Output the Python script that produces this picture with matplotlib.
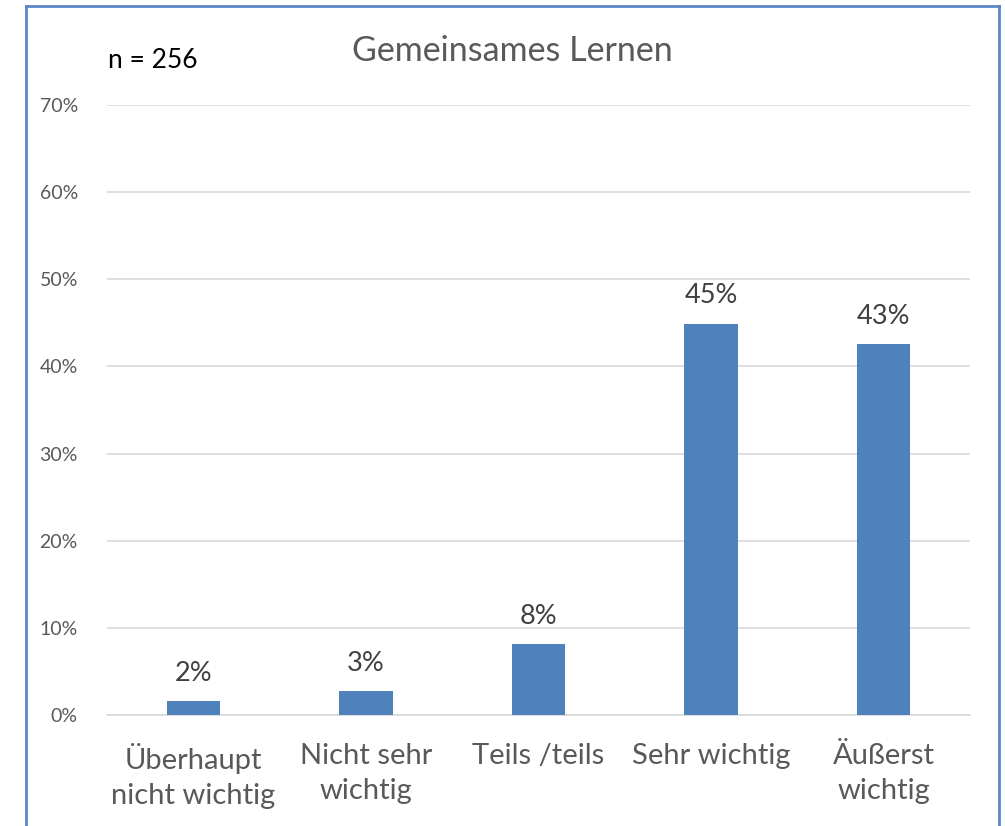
import matplotlib
matplotlib.use("Agg")
import matplotlib.pyplot as plt
from matplotlib.lines import Line2D
from matplotlib.ticker import FuncFormatter

categories = ["Überhaupt\nnicht wichtig", "Nicht sehr\nwichtig", "Teils /teils", "Sehr wichtig", "Äußerst\nwichtig"]
values = [0.016, 0.0275, 0.0815, 0.449, 0.426]
labels = ["2%", "3%", "8%", "45%", "43%"]
yticks = [0, 0.1, 0.2, 0.3, 0.4, 0.5, 0.6, 0.7]

plt.rcParams['font.family'] = ['Lato', 'DejaVu Sans']

W, H = 1005, 826
fig = plt.figure(figsize=(W / 100, H / 100), dpi=100)
ax = fig.add_axes([107 / W, 1 - 715 / H, (970 - 107) / W, (715 - 105) / H])

x = range(len(categories))
ax.bar(x, values, width=0.31, color="#4F81BD", zorder=3)
for xi, v, lab in zip(x, values, labels):
    ax.text(xi, v + 0.0175, lab, ha="center", va="bottom", fontsize=19.5, color="#404040")

ax.set_xlim(-0.5, len(categories) - 0.5)
ax.set_ylim(0, 0.7)
ax.set_yticks(yticks)
ax.yaxis.set_major_formatter(FuncFormatter(lambda v, p: f"{round(v * 100)}%"))
ax.set_xticks(list(x))
ax.set_xticklabels(categories, fontsize=21, color="#595959", linespacing=1.45)
ax.tick_params(axis="y", labelsize=14, labelcolor="#595959", length=0, pad=21)
ax.tick_params(axis="x", length=0, pad=20)
ax.grid(axis="y", color="#D9D9D9", linewidth=1.2, zorder=0)
for s in ["top", "right", "left"]:
    ax.spines[s].set_visible(False)
ax.spines["bottom"].set_color("#D9D9D9")
ax.spines["bottom"].set_linewidth(1.2)

fig.text(512 / W, 1 - 51 / H, "Gemeinsames Lernen", ha="center", va="center", fontsize=24.5, color="#595959")
fig.text(108 / W, 1 - 61 / H, "n = 256", ha="left", va="center", fontsize=19, color="#000000")

border = "#5B87C8"
fig.add_artist(Line2D([26 / W, 26 / W], [0, 1 - 6 / H], color=border, linewidth=2, transform=fig.transFigure))
fig.add_artist(Line2D([26 / W, 999 / W], [1 - 6 / H, 1 - 6 / H], color=border, linewidth=2, transform=fig.transFigure))
fig.add_artist(Line2D([999 / W, 999 / W], [0, 1 - 6 / H], color=border, linewidth=2, transform=fig.transFigure))

fig.savefig("out.png", dpi=100)
